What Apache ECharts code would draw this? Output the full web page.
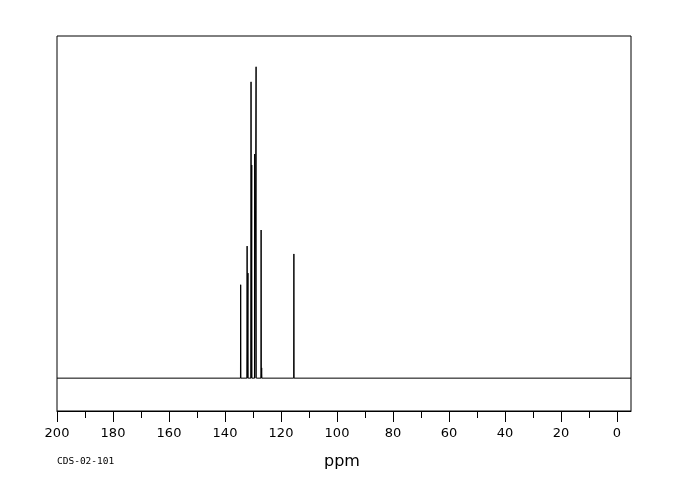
<!DOCTYPE html>
<html>
<head>
<meta charset="utf-8">
<script src="https://cdn.jsdelivr.net/npm/echarts@6/dist/echarts.min.js"></script>
<style>html,body{margin:0;padding:0;background:#fff}#c{width:680px;height:500px}</style>
</head>
<body>
<div id="c"></div>
<script>
// Peak positions (ppm) and relative intensities
const peakPpm = [134.4, 132.1, 131.8, 130.7, 130.45, 129.4, 128.9, 127.1, 126.9, 115.4];
const peakHeight = [27.3, 38.6, 30.7, 86.6, 62.3, 65.5, 91.0, 43.3, 3.0, 36.3];
const majorTicks = [0, 20, 40, 60, 80, 100, 120, 140, 160, 180, 200];
const minorTicks = [10, 30, 50, 70, 90, 110, 130, 150, 170, 190];
const ppmRange = [-5, 200];
const spectrumId = 'CDS-02-101';

const halfWidth = 0.08;
const lineData = [[ppmRange[1], 0]];
peakPpm.forEach((p, i) => {
  lineData.push([p + halfWidth, 0]);
  lineData.push([p, peakHeight[i]]);
  lineData.push([p - halfWidth, 0]);
});
lineData.push([ppmRange[0], 0]);

const chart = echarts.init(document.getElementById('c'), null, {renderer: 'canvas'});
const labelFont = {color: '#000', fontFamily: 'DejaVu Sans', fontSize: 13};
chart.setOption({
  animation: false,
  backgroundColor: '#fff',
  grid: {left: 57, right: 49, top: 36, bottom: 89, show: true, borderColor: '#000', borderWidth: 1, backgroundColor: 'transparent'},
  xAxis: [{
    type: 'value', inverse: true, min: ppmRange[0], max: ppmRange[1], position: 'bottom',
    axisLine: {show: true, onZero: false, lineStyle: {color: '#000', width: 1}},
    axisTick: {show: true, inside: false, length: 11, customValues: majorTicks, lineStyle: {color: '#000'}},
    axisLabel: Object.assign({show: true, margin: 16, customValues: majorTicks}, labelFont),
    splitLine: {show: false}
  }, {
    type: 'value', inverse: true, min: ppmRange[0], max: ppmRange[1], position: 'bottom', offset: 0,
    axisLine: {show: false, onZero: false},
    axisTick: {show: true, inside: false, length: 7, customValues: minorTicks, lineStyle: {color: '#000'}},
    axisLabel: {show: false},
    splitLine: {show: false}
  }],
  yAxis: {type: 'value', min: -9.6, max: 100, show: false, splitLine: {show: false}},
  graphic: [
    {type: 'text', left: 57, top: 457, style: {text: spectrumId, fill: '#000', font: '9.5px "DejaVu Sans Mono"'}},
    {type: 'text', left: 324, top: 454, style: {text: 'ppm', fill: '#000', font: '16px "DejaVu Sans"'}}
  ],
  series: [{
    type: 'line', xAxisIndex: 0, data: lineData, showSymbol: false, symbol: 'none',
    lineStyle: {color: '#000', width: 1}, silent: true
  }]
});
</script>
</body>
</html>
